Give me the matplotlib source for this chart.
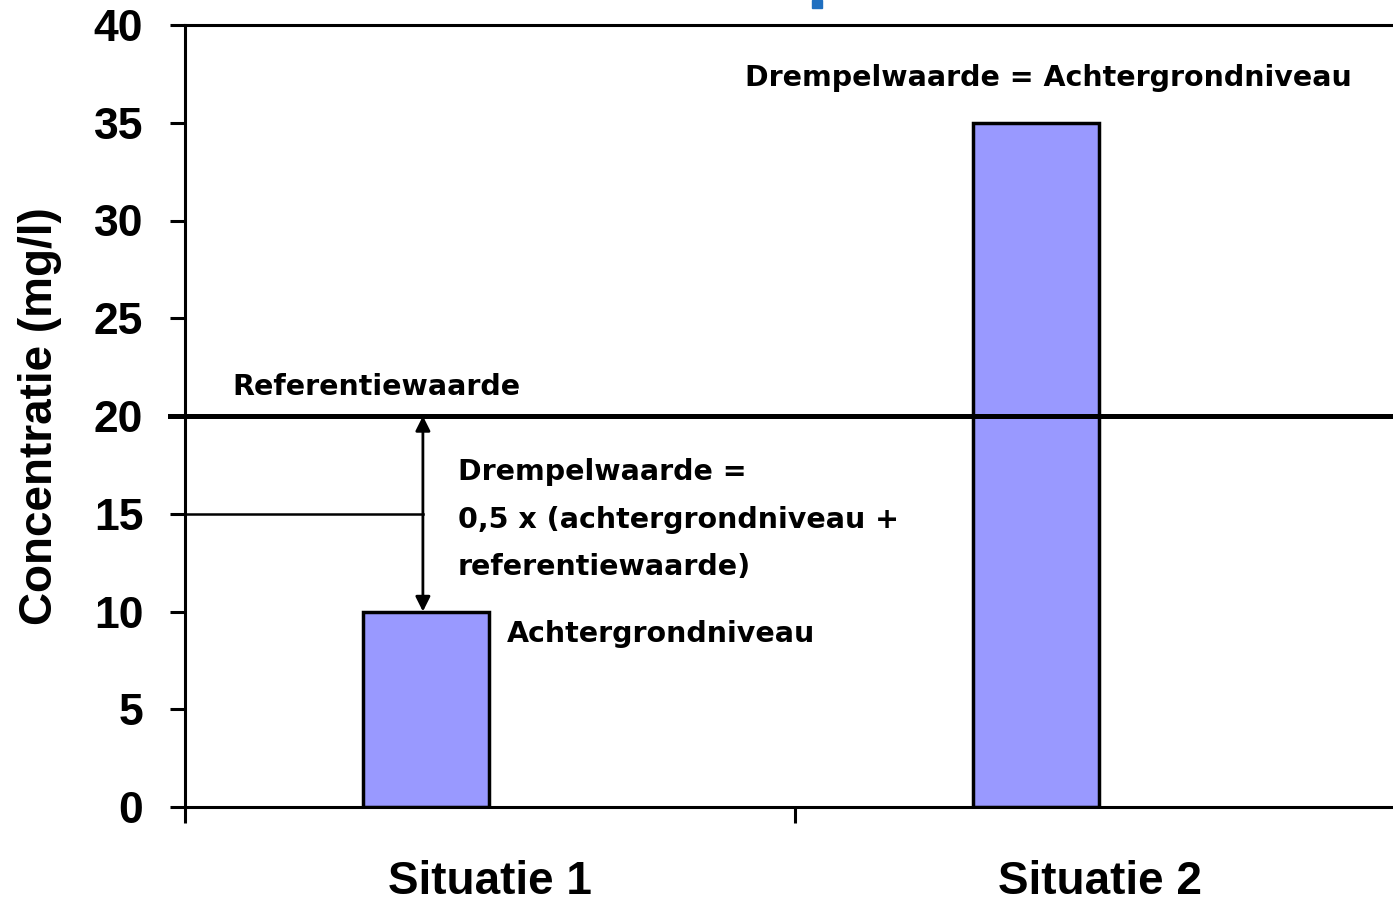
import matplotlib.pyplot as plt
from matplotlib.patches import Rectangle

# data
situaties = ["Situatie 1", "Situatie 2"]
concentraties = [10, 35]
referentiewaarde = 20
drempel_1 = 15
yticks = [0, 5, 10, 15, 20, 25, 30, 35, 40]

bar_pos = [0.395, 1.395]
label_pos = [0.5, 1.5]

plt.rcParams['font.family'] = ['Liberation Sans', 'DejaVu Sans']
plt.rcParams['font.weight'] = 'bold'
ann = dict(family='DejaVu Sans', fontweight='bold', fontsize=20.5)

fig = plt.figure(figsize=(13.93, 9.02), dpi=100)
ax = fig.add_axes([185 / 1393, 95 / 902, 1220 / 1393, 782 / 902])

ax.bar(bar_pos, concentraties, width=0.208, color='#9999ff',
       edgecolor='black', linewidth=2.5, zorder=2)

# referentiewaarde line, runs out over the tick
ax.axhline(referentiewaarde, xmin=-0.0123, xmax=1, color='black',
           linewidth=3.6, clip_on=False, zorder=3)
ax.plot([0, bar_pos[0] - 0.005], [drempel_1, drempel_1], color='black',
        linewidth=1.8, zorder=3)
ax.annotate('', xy=(bar_pos[0] - 0.005, concentraties[0]),
            xytext=(bar_pos[0] - 0.005, referentiewaarde),
            arrowprops=dict(arrowstyle='<|-|>', color='black', lw=2,
                            mutation_scale=22, shrinkA=0, shrinkB=0))

ax.text(0.077, 21.5, 'Referentiewaarde', va='center', ha='left', **ann)
ax.text(0.918, 37.3, 'Drempelwaarde = Achtergrondniveau',
        va='center', ha='left', **ann)
ax.text(0.4475, 14.7, 'Drempelwaarde =\n0,5 x (achtergrondniveau +\nreferentiewaarde)',
        va='center', ha='left', linespacing=1.9, **ann)
ax.text(0.528, 8.85, 'Achtergrondniveau', va='center', ha='left', **ann)

ax.set_xlim(0, 2)
ax.set_ylim(0, 40)
ax.set_yticks(yticks)
ax.set_yticklabels([str(v) for v in yticks])
ax.set_xticks([0, 1, 2])
ax.set_xticklabels(['', '', ''])
ax.set_xticks(label_pos, minor=True)
ax.set_xticklabels(situaties, minor=True, fontweight='bold', fontsize=33)
ax.tick_params(axis='x', which='minor', length=0, pad=38)
ax.tick_params(axis='x', which='major', length=11.5, width=2.2, direction='out')
ax.tick_params(axis='y', labelsize=32, length=11, width=2.2, pad=19)

ax.set_ylabel('Concentratie (mg/l)', fontsize=33, fontweight='bold', labelpad=23)

for s in ax.spines.values():
    s.set_linewidth(2.2)
ax.spines['right'].set_visible(False)

# small blue mark at the top edge
fig.patches.append(Rectangle((812 / 1393, 894 / 902), 10 / 1393, 8 / 902,
                             transform=fig.transFigure, color='#1f6fc0'))

fig.savefig('out.png', dpi=100)
